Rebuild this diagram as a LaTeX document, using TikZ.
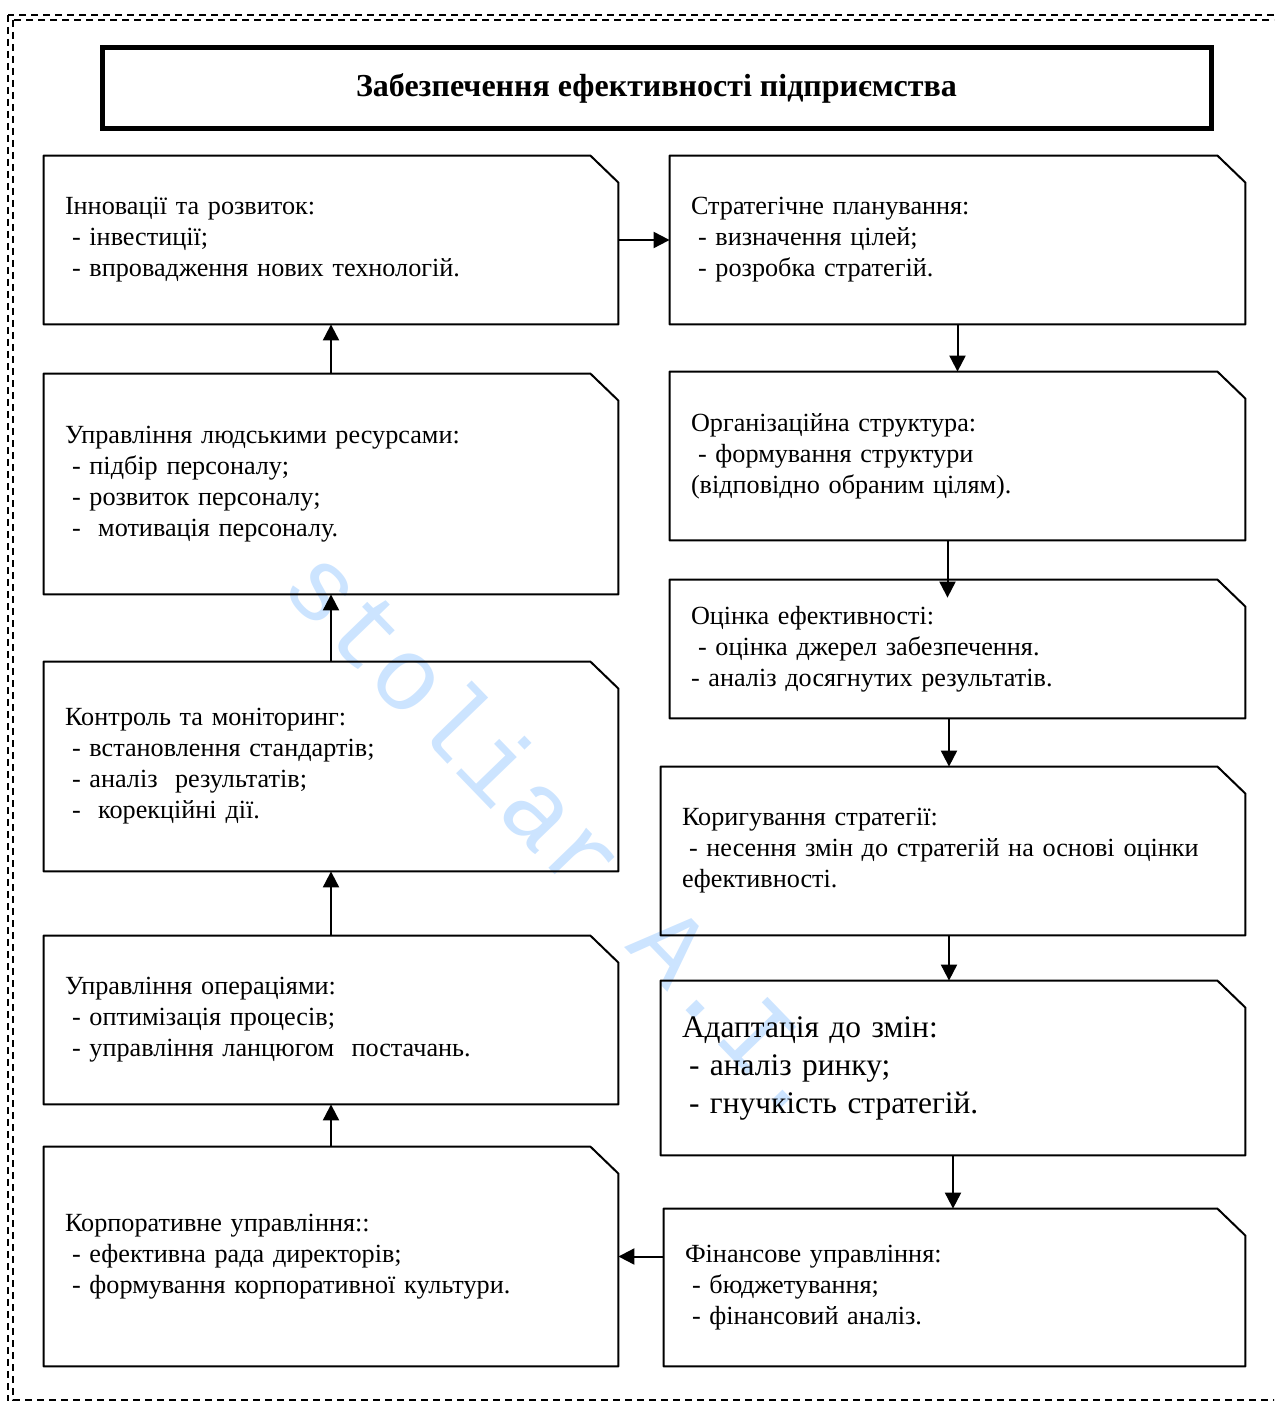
\documentclass[tikz,border=0pt]{standalone}
\usepackage{fontspec}
\setmainfont{Liberation Serif}
\newfontfamily\wmfont{Liberation Mono}
\usetikzlibrary{arrows.meta}
\definecolor{wmblue}{RGB}{204,228,255}
\newcommand{\boxfont}{\fontsize{13.1}{15.5}\selectfont}
\newcommand{\bigboxfont}{\fontsize{15.7}{19}\selectfont}
\newcommand{\dd}{\hspace*{3.5pt}- }
\tikzset{
  snipbox/.style={rectangle,inner xsep=10.5pt,align=left,font=\boxfont,
    append after command={\pgfextra{\draw[line width=1pt,line join=round]
      (\tikzlastnode.south west) -- (\tikzlastnode.north west)
      -- ([xshift=-14pt]\tikzlastnode.north east)
      -- ([yshift=-13.5pt]\tikzlastnode.north east)
      -- (\tikzlastnode.south east) -- cycle;}}},
  border/.style={dashed,dash pattern=on 3.5pt off 2.5pt,line width=0.75pt}
}
\begin{document}
\begin{tikzpicture}[x=0.5pt,y=-0.5pt,>={Triangle[length=8pt,width=8pt]}]
    \useasboundingbox (0,0) rectangle (1274,1401);
    \clip (0,0) rectangle (1274,1401);
    \draw[border] (8,15) rectangle (1300,1420);
    \draw[border] (13,20) rectangle (1295,1400);

    \node[rotate=-46,text=wmblue,font=\wmfont\fontsize{52}{52}\selectfont] (wm) at (565,832) {stoliar A.I.};

    \node[rectangle,draw,line width=2.5pt,minimum width=554.5pt,minimum height=40.5pt,font=\bfseries\fontsize{16}{18}\selectfont] (title) at (656.5,88.5) {Забезпечення ефективності підприємства};

    % left column
    \node[snipbox,text width=266pt,minimum height=84pt] (innov) at (331,240) {Інновації та розвиток:\\ \dd інвестиції;\\ \dd впровадження нових технологій.};
    \node[snipbox,text width=266pt,minimum height=110pt] (hr) at (331,484) {Управління людськими ресурсами:\\ \dd підбір персоналу;\\ \dd розвиток персоналу;\\ \dd\ мотивація персоналу.};
    \node[snipbox,text width=266pt,minimum height=104.5pt] (control) at (331,766.5) {Контроль та моніторинг:\\ \dd встановлення стандартів;\\ \dd аналіз\ \ результатів;\\ \dd\ корекційні дії.};
    \node[snipbox,text width=266pt,minimum height=84pt] (ops) at (331,1020) {Управління операціями:\\ \dd оптимізація процесів;\\ \dd управління ланцюгом\ \ постачань.};
    \node[snipbox,text width=266pt,minimum height=109.5pt] (corp) at (331,1256.5) {Корпоративне управління::\\ \dd ефективна рада директорів;\\ \dd формування корпоративної культури.};

    % right column
    \node[snipbox,text width=266.5pt,minimum height=84pt] (strat) at (957.5,240) {Стратегічне планування:\\ \dd визначення цілей;\\ \dd розробка стратегій.};
    \node[snipbox,text width=266.5pt,minimum height=84pt] (org) at (957.5,456) {Організаційна структура:\\ \dd формування структури\\ (відповідно обраним цілям).};
    \node[snipbox,text width=266.5pt,minimum height=69pt] (eval) at (957.5,649) {Оцінка ефективності:\\ \dd оцінка джерел забезпечення.\\ - аналіз досягнутих результатів.};
    \node[snipbox,text width=271pt,minimum height=84pt] (corr) at (953,851) {Коригування стратегії:\\ \dd несення змін до стратегій на основі оцінки\\ ефективності.};
    \node[snipbox,text width=271pt,minimum height=87pt,font=\bigboxfont] (adapt) at (953,1068) {Адаптація до змін:\\ \dd аналіз ринку;\\ \dd гнучкість стратегій.};
    \node[snipbox,text width=269.5pt,minimum height=78.5pt] (fin) at (954.5,1287.5) {Фінансове управління:\\ \dd бюджетування;\\ \dd фінансовий аналіз.};

    \draw[->,line width=1pt] (innov) -- (strat) ;
    \draw[->,line width=1pt] (strat) -- (org) ;
    \draw[->,line width=1pt] ([xshift=-5pt]org.south) -- ([xshift=-5pt,yshift=-9pt]eval.north) ;
    \draw[->,line width=1pt] ([xshift=-2pt]corr.north |- eval.south) -- ([xshift=-2pt]corr.north) ;
    \draw[->,line width=1pt] ([xshift=-2pt]corr.south) -- ([xshift=-2pt]adapt.north) ;
    \draw[->,line width=1pt] (adapt.south) -- (adapt.south |- fin.north) ;
    \draw[->,line width=1pt] (corp.east -| fin.west) -- (corp.east) ;
    \draw[->,line width=1pt] (corp) -- (ops) ;
    \draw[->,line width=1pt] (ops) -- (control) ;
    \draw[->,line width=1pt] (control) -- (hr) ;
    \draw[->,line width=1pt] (hr) -- (innov) ;
\end{tikzpicture}
\end{document}
